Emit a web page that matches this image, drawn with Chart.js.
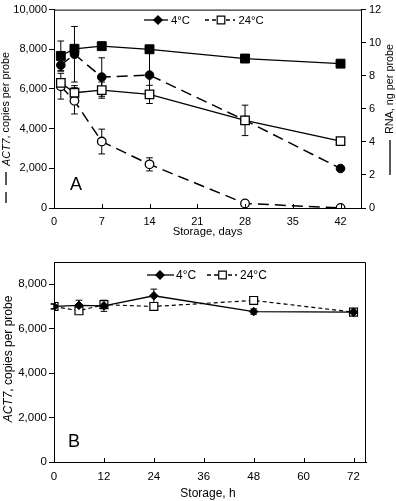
<!DOCTYPE html>
<html>
<head>
<meta charset="utf-8">
<script src="https://cdn.jsdelivr.net/npm/chart.js@4.4.2/dist/chart.umd.min.js"></script>
<style>
  html, body { margin: 0; padding: 0; background: #fff; }
  #wrap { position: relative; width: 396px; height: 501px; }
  #boxA { position: absolute; left: 0; top: 0; width: 396px; height: 246px; }
  #boxB { position: absolute; left: 0; top: 250px; width: 396px; height: 251px; }
</style>
</head>
<body>
<div id="wrap">
  <div id="boxA"><canvas id="chartA"></canvas></div>
  <div id="boxB"><canvas id="chartB"></canvas></div>
</div>
<script>
// panel A: storage in days
const daysA = [1, 3, 7, 14, 28, 42];
const rna4 = [9.2, 9.63, 9.79, 9.6, 9.04, 8.73];
const rna4Err = [0.9, 0, 0, 0, 0, 0];
const rna24 = [7.57, 6.97, 7.13, 6.87, 5.3, 4.04];
const rna24Err = [0, 0.43, 0.49, 0.55, 0.92, 0];
const act4A = [7200, 7750, 6600, 6700, 4420, 1990];
const act4AErr = [300, 1400, 970, 1150, 0, 0];
const act24A = [6140, 5400, 3350, 2200, 230, 0];
const act24AErr = [650, 660, 625, 330, 0, 0];

// panel B: storage in hours
const hoursB = [0, 6, 12, 24, 48, 72];
const act4B = [7000, 7050, 7030, 7480, 6770, 6745];
const act4BErr = [100, 230, 250, 300, 120, 0];
const act24B = [7000, 6805, 7080, 7000, 7270, 6745];
const act24BErr = [120, 0, 0, 0, 80, 90];

const yTicksB = [0, 2000, 4000, 6000, 8000];

const FONT = "'Liberation Sans', Arial, Helvetica, sans-serif";
Chart.defaults.font.family = FONT;
Chart.defaults.font.size = 11;
Chart.defaults.color = '#000';

const pts = (xs, ys) => xs.map((x, i) => ({ x: x, y: ys[i] }));
const fmt = v => Number(v).toLocaleString('en-US');

const errorBars = {
  id: 'errorBars',
  beforeDatasetsDraw(chart) {
    const ctx = chart.ctx;
    const xScale = chart.scales.x;
    chart.data.datasets.forEach(ds => {
      if (!ds.err) return;
      const yScale = chart.scales[ds.yAxisID || 'y'];
      ctx.save();
      ctx.strokeStyle = '#000';
      ctx.lineWidth = 1;
      ds.data.forEach((p, j) => {
        const e = ds.err[j];
        if (!e) return;
        const x = xScale.getPixelForValue(p.x);
        const yt = yScale.getPixelForValue(p.y + e);
        const yb = yScale.getPixelForValue(p.y - e);
        ctx.beginPath();
        ctx.moveTo(x, yt); ctx.lineTo(x, yb);
        ctx.moveTo(x - 3.3, yt); ctx.lineTo(x + 3.3, yt);
        ctx.moveTo(x - 3.3, yb); ctx.lineTo(x + 3.3, yb);
        ctx.stroke();
      });
      ctx.restore();
    });
  }
};

function drawParts(ctx, parts, size, x, y) {
  let cx = x;
  parts.forEach(p => {
    ctx.font = (p.italic ? 'italic ' : '') + size + 'px ' + FONT;
    ctx.fillText(p.text, cx, y);
    cx += ctx.measureText(p.text).width;
  });
}

function partsWidth(ctx, parts, size) {
  return parts.reduce((w, p) => {
    ctx.font = (p.italic ? 'italic ' : '') + size + 'px ' + FONT;
    return w + ctx.measureText(p.text).width;
  }, 0);
}

function drawMarker(ctx, style, x, y, r, fill) {
  ctx.save();
  ctx.setLineDash([]);
  ctx.fillStyle = fill;
  ctx.strokeStyle = '#000';
  ctx.lineWidth = 1.2;
  ctx.beginPath();
  if (style === 'diamond') {
    ctx.moveTo(x, y - r); ctx.lineTo(x + r, y); ctx.lineTo(x, y + r); ctx.lineTo(x - r, y);
    ctx.closePath();
  } else {
    ctx.rect(x - r, y - r, 2 * r, 2 * r);
  }
  ctx.fill();
  ctx.stroke();
  ctx.restore();
}

function drawLegend(ctx, items, y, size) {
  items.forEach(it => {
    ctx.save();
    ctx.strokeStyle = '#000';
    ctx.lineWidth = 1.3;
    ctx.setLineDash(it.dash);
    ctx.beginPath();
    ctx.moveTo(it.x1, y); ctx.lineTo(it.x2, y);
    ctx.stroke();
    ctx.restore();
    drawMarker(ctx, it.marker, it.mx, y, it.r, it.fill);
    ctx.font = size + 'px ' + FONT;
    ctx.fillStyle = '#000';
    ctx.textBaseline = 'middle';
    ctx.textAlign = 'left';
    ctx.fillText(it.label, it.tx, y + 0.5);
  });
}

function innerTicks(ctx, scale, bottom) {
  ctx.save();
  ctx.strokeStyle = '#000';
  ctx.lineWidth = 1;
  ctx.beginPath();
  scale.ticks.forEach(t => {
    const x = Math.round(scale.getPixelForValue(t.value)) + 0.5;
    ctx.moveTo(x, bottom); ctx.lineTo(x, bottom - 4);
  });
  ctx.stroke();
  ctx.restore();
}

const decorA = {
  id: 'decorA',
  afterDraw(chart) {
    const ctx = chart.ctx;
    const a = chart.chartArea;
    ctx.save();
    ctx.strokeStyle = '#000';
    ctx.lineWidth = 1;
    ctx.beginPath();
    ctx.moveTo(a.left, a.top + 0.5); ctx.lineTo(a.right, a.top + 0.5);
    ctx.stroke();
    innerTicks(ctx, chart.scales.x, a.bottom);

    ctx.fillStyle = '#000';
    ctx.textBaseline = 'middle';
    ctx.textAlign = 'center';
    ctx.font = '11.3px ' + FONT;
    ctx.fillText('Storage, days', (a.left + a.right) / 2, 231.5);

    ctx.textAlign = 'left';
    ctx.textBaseline = 'alphabetic';
    ctx.font = '18px ' + FONT;
    ctx.fillText('A', 70, 190);

    // left title with dashed-line key
    ctx.save();
    ctx.translate(6, 203);
    ctx.rotate(-Math.PI / 2);
    ctx.lineWidth = 1.3;
    ctx.beginPath();
    ctx.moveTo(0, 0); ctx.lineTo(11, 0);
    ctx.moveTo(18, 0); ctx.lineTo(31, 0);
    ctx.stroke();
    ctx.textBaseline = 'middle';
    drawParts(ctx, [{ text: 'ACT7', italic: true }, { text: ', copies per probe' }], 10.8, 37, 0.5);
    ctx.restore();

    // right title with solid-line key
    ctx.save();
    ctx.translate(390, 175);
    ctx.rotate(-Math.PI / 2);
    ctx.lineWidth = 1.3;
    ctx.beginPath();
    ctx.moveTo(0, 0); ctx.lineTo(35, 0);
    ctx.stroke();
    ctx.textBaseline = 'middle';
    drawParts(ctx, [{ text: 'RNA, ng per probe' }], 10.8, 41, 0.5);
    ctx.restore();

    drawLegend(ctx, [
      { x1: 144, x2: 168, dash: [], marker: 'diamond', mx: 158, r: 4.2, fill: '#000', tx: 171, label: '4°C' },
      { x1: 205, x2: 235, dash: [4, 3], marker: 'square', mx: 221, r: 3.8, fill: '#fff', tx: 238.5, label: '24°C' }
    ], 20, 11.3);
    ctx.restore();
  }
};

const decorB = {
  id: 'decorB',
  afterDraw(chart) {
    const ctx = chart.ctx;
    const a = chart.chartArea;
    ctx.save();
    ctx.strokeStyle = '#000';
    ctx.lineWidth = 1;
    ctx.beginPath();
    ctx.moveTo(a.left, a.top + 0.5); ctx.lineTo(a.right - 0.5, a.top + 0.5); ctx.lineTo(a.right - 0.5, a.bottom);
    ctx.stroke();
    innerTicks(ctx, chart.scales.x, a.bottom);

    ctx.fillStyle = '#000';
    ctx.textBaseline = 'middle';
    ctx.textAlign = 'center';
    ctx.font = '12px ' + FONT;
    ctx.fillText('Storage, h', 208, 243.5);

    ctx.textAlign = 'left';
    ctx.textBaseline = 'alphabetic';
    ctx.font = '18px ' + FONT;
    ctx.fillText('B', 68, 197);

    const parts = [{ text: 'ACT7', italic: true }, { text: ', copies per probe' }];
    const w = partsWidth(ctx, parts, 12);
    ctx.save();
    ctx.translate(8, 109);
    ctx.rotate(-Math.PI / 2);
    ctx.textBaseline = 'middle';
    drawParts(ctx, parts, 12, -w / 2, 0.5);
    ctx.restore();

    drawLegend(ctx, [
      { x1: 147, x2: 174, dash: [], marker: 'diamond', mx: 160, r: 4.2, fill: '#000', tx: 176, label: '4°C' },
      { x1: 207, x2: 237, dash: [4, 3], marker: 'square', mx: 222.5, r: 3.8, fill: '#fff', tx: 240, label: '24°C' }
    ], 25, 12);
    ctx.restore();
  }
};

const yGrid = { drawOnChartArea: false, drawTicks: true, tickLength: 5, color: '#000', lineWidth: 1 };
const xGrid = { display: false, drawTicks: false };
const axisBorder = { color: '#000', width: 1 };

new Chart(document.getElementById('chartA'), {
  type: 'line',
  data: {
    datasets: [
      {
        label: 'RNA 4°C', yAxisID: 'y1', data: pts(daysA, rna4), err: rna4Err,
        borderColor: '#000', borderWidth: 1.3, pointStyle: 'rect', pointRadius: 6.3,
        pointBackgroundColor: '#000', pointBorderColor: '#000', pointBorderWidth: 1
      },
      {
        label: 'RNA 24°C', yAxisID: 'y1', data: pts(daysA, rna24), err: rna24Err,
        borderColor: '#000', borderWidth: 1.3, pointStyle: 'rect', pointRadius: 6.0,
        pointBackgroundColor: '#fff', pointBorderColor: '#000', pointBorderWidth: 1.3
      },
      {
        label: 'ACT7 4°C', yAxisID: 'y', data: pts(daysA, act4A), err: act4AErr,
        borderColor: '#000', borderWidth: 1.5, borderDash: [11, 6], pointStyle: 'circle', pointRadius: 4.3,
        pointBackgroundColor: '#000', pointBorderColor: '#000', pointBorderWidth: 1
      },
      {
        label: 'ACT7 24°C', yAxisID: 'y', data: pts(daysA, act24A), err: act24AErr,
        borderColor: '#000', borderWidth: 1.5, borderDash: [11, 6], pointStyle: 'circle', pointRadius: 4.3,
        pointBackgroundColor: '#fff', pointBorderColor: '#000', pointBorderWidth: 1.3
      }
    ]
  },
  options: {
    responsive: true,
    maintainAspectRatio: false,
    animation: false,
    layout: { padding: { top: 5, left: 0, right: 0, bottom: 0 } },
    plugins: { legend: { display: false }, tooltip: { enabled: false } },
    scales: {
      x: {
        type: 'linear', min: 0, max: 45,
        grid: xGrid, border: axisBorder,
        ticks: { stepSize: 7, includeBounds: false, autoSkip: false, padding: 7 },
        afterFit: s => { s.height = 38; }
      },
      y: {
        position: 'left', min: 0, max: 10000,
        grid: yGrid, border: axisBorder,
        ticks: { stepSize: 2000, padding: 2, callback: fmt },
        afterFit: s => { s.width = 54; }
      },
      y1: {
        position: 'right', min: 0, max: 12,
        grid: yGrid, border: axisBorder,
        ticks: { stepSize: 2, padding: 3 },
        afterFit: s => { s.width = 35; }
      }
    }
  },
  plugins: [errorBars, decorA]
});

new Chart(document.getElementById('chartB'), {
  type: 'line',
  data: {
    datasets: [
      {
        label: '4°C', data: pts(hoursB, act4B), err: act4BErr,
        borderColor: '#000', borderWidth: 1.3, pointStyle: 'rectRot', pointRadius: 4.3,
        pointBackgroundColor: '#000', pointBorderColor: '#000', pointBorderWidth: 1
      },
      {
        label: '24°C', data: pts(hoursB, act24B), err: act24BErr,
        borderColor: '#000', borderWidth: 1.2, borderDash: [4, 3], pointStyle: 'rect', pointRadius: 5.6,
        pointBackgroundColor: '#fff', pointBorderColor: '#000', pointBorderWidth: 1.2
      }
    ]
  },
  options: {
    responsive: true,
    maintainAspectRatio: false,
    animation: false,
    layout: { padding: { top: 12, left: 0, right: 30, bottom: 0 } },
    plugins: { legend: { display: false }, tooltip: { enabled: false } },
    scales: {
      x: {
        type: 'linear', min: 0, max: 75,
        grid: xGrid, border: axisBorder,
        ticks: { stepSize: 12, includeBounds: false, autoSkip: false, padding: 8, font: { size: 11.5 } },
        afterFit: s => { s.height = 39; }
      },
      y: {
        position: 'left', min: 0, max: 9000,
        grid: yGrid, border: axisBorder,
        ticks: { padding: 2, callback: fmt, font: { size: 11.5 } },
        afterBuildTicks: s => { s.ticks = yTicksB.map(v => ({ value: v })); },
        afterFit: s => { s.width = 54; }
      }
    }
  },
  plugins: [errorBars, decorB]
});
</script>
</body>
</html>
